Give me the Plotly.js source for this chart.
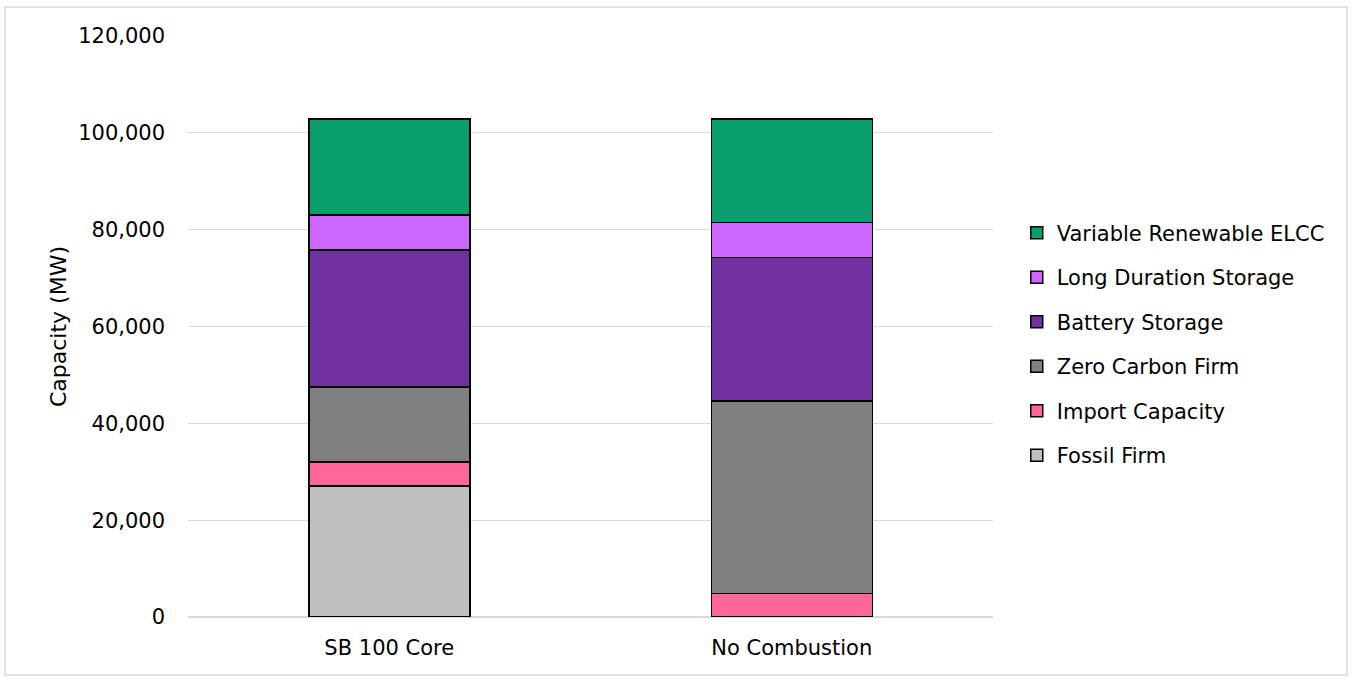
<!DOCTYPE html>
<html>
<head>
<meta charset="utf-8">
<script src="https://cdn.plot.ly/plotly-3.0.1.min.js"></script>
<style>html,body{margin:0;padding:0;background:#fff}#chart{width:1352px;height:679px}</style>
</head>
<body>
<div id="chart"></div>
<script>
const scenarios = ["SB 100 Core", "No Combustion"];
const seriesNames = ["Fossil Firm", "Import Capacity", "Zero Carbon Firm", "Battery Storage", "Long Duration Storage", "Variable Renewable ELCC"];
const fossilFirm = [27100, 0];
const importCapacity = [4950, 4900];
const zeroCarbonFirm = [15450, 39700];
const batteryStorage = [28300, 29700];
const longDurationStorage = [7200, 7200];
const variableRenewableELCC = [19900, 21400];
const yTickVals = [0, 20000, 40000, 60000, 80000, 100000, 120000];
const yTickText = ["0", "20,000", "40,000", "60,000", "80,000", "100,000", "120,000"];

const seriesValues = [fossilFirm, importCapacity, zeroCarbonFirm, batteryStorage, longDurationStorage, variableRenewableELCC];
const colors = ["#bfbfbf", "#ff6699", "#808080", "#7030a0", "#cc66ff", "#0a9e6c"];

const traces = seriesNames.map((name, i) => ({
  type: "bar",
  name: name,
  x: scenarios,
  y: seriesValues[i],
  legendgroup: "g" + i,
  legendrank: seriesNames.length - i,
  marker: { color: colors[i], line: { color: "#000000", width: 1.5 } },
  width: 0.4,
  hoverinfo: "x+y+name"
}));

const FONT = "DejaVu Sans, Verdana, sans-serif";

const layout = {
  width: 1352, height: 679,
  barmode: "stack",
  paper_bgcolor: "#ffffff", plot_bgcolor: "#ffffff",
  margin: { l: 188, r: 359, t: 36, b: 62 },
  font: { family: FONT, size: 21, color: "#000000" },
  showlegend: true,
  legend: {
    x: 1.0295, xanchor: "left", y: 0.696, yanchor: "top",
    traceorder: "grouped", tracegroupgap: 14.2,
    font: { family: FONT, size: 21, color: "#000000" },
    itemwidth: 30
  },
  xaxis: {
    type: "category",
    showgrid: false, zeroline: false, showline: false, ticks: "",
    tickfont: { family: FONT, size: 21, color: "#000000" },
    ticklabelstandoff: 16
  },
  yaxis: {
    range: [0, 120000],
    tickvals: yTickVals, ticktext: yTickText,
    showgrid: true, gridcolor: "#d9d9d9", gridwidth: 1.3,
    zeroline: true, zerolinecolor: "#d9d9d9", zerolinewidth: 1.3,
    showline: false, ticks: "",
    ticklabelstandoff: 22,
    tickfont: { family: FONT, size: 21, color: "#000000" },
    title: { text: "Capacity (MW)", standoff: 5, font: { family: FONT, size: 22, color: "#000000" } }
  },
  shapes: [{
    type: "rect", xref: "paper", yref: "paper",
    x0: (5 - 188) / 805, x1: (1347 - 188) / 805,
    y0: (617 - 675) / 581, y1: (617 - 7) / 581,
    line: { color: "#d9d9d9", width: 1.5 }, fillcolor: "rgba(0,0,0,0)", layer: "below"
  }]
};

Plotly.newPlot("chart", traces, layout, { displayModeBar: false, staticPlot: true });
</script>
</body>
</html>
